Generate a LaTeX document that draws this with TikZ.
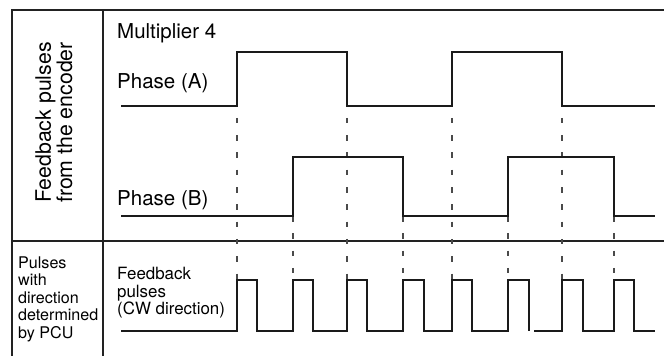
\documentclass[tikz,border=0pt]{standalone}
\usepackage{fontspec}
\setmainfont{TeX Gyre Heros}
\usetikzlibrary{positioning}
\definecolor{Ink}{HTML}{1A1A1A}
\definecolor{Rule}{HTML}{222222}
\definecolor{Guide}{HTML}{4A4A4A}
\tikzset{
 frame/.style={draw=Rule,line width=1.3pt},
 wave/.style={draw=Ink,line width=1.4pt},
 guide/.style={draw=Guide,line width=1.3pt,dash pattern=on 5.5pt off 11.8pt},
 lbl/.style={anchor=base west,inner sep=0pt,font=\fontsize{20.5}{24}\selectfont},
 small/.style={anchor=north west,inner sep=0pt,align=left,font=\fontsize{16.9}{17.5}\selectfont},
 side/.style={small,font=\fontsize{16.1}{17.5}\selectfont}
}
\begin{document}
\begin{tikzpicture}[x=1pt,y=-1pt]
\useasboundingbox (0,0) rectangle (664,356);
% table rules
\draw[frame] (664,10) -- (12,10) -- (12,356);
\draw[frame] (103,10) -- (103,356);
\draw[frame] (12,241) -- (664,241);
% labels
\node[rotate=90,align=center,inner sep=0pt,font=\fontsize{21.3}{20}\selectfont] (enc) at (54,122.5) {Feedback pulses\\from the encoder};
\node[side] (pcu) at (18,256.5) {Pulses\\with\\direction\\determined\\by PCU};
\node[lbl] (mult) at (117,38) {Multiplier 4};
\node[lbl] (phA) at (117,88) {Phase (A)};
\node[lbl] (phB) at (117,205) {Phase (B)};
\node[small] (fb) at (117,267) {Feedback\\pulses\\(CW direction)};
% guide lines
\foreach \x in {237,347,452,562} \draw[guide,dash phase=5.5pt] (\x,106) -- (\x,280);
\foreach \x in {293,403,508,614} \draw[guide] (\x,216) -- (\x,280);
% waveforms
\draw[wave] (121,106) -- (237,106) |- (347,52) |- (452,106) |- (562,52) |- (655,106);
\draw[wave] (121,216) -- (293,216) |- (403,157) |- (508,216) |- (614,157) |- (655,216);
\draw[wave] (121,331) -- (237,331) |- (257,280) |- (293,331) |- (313,280) |- (347,331) |- (367,280)
 |- (403,331) |- (424,280) |- (452,331) |- (472,280) |- (508,331) |- (529,280) -- (529,331);
\draw[wave] (534,331) -- (562,331) |- (583,280) |- (614,331) |- (634,280) |- (655,331);
\end{tikzpicture}
\end{document}
